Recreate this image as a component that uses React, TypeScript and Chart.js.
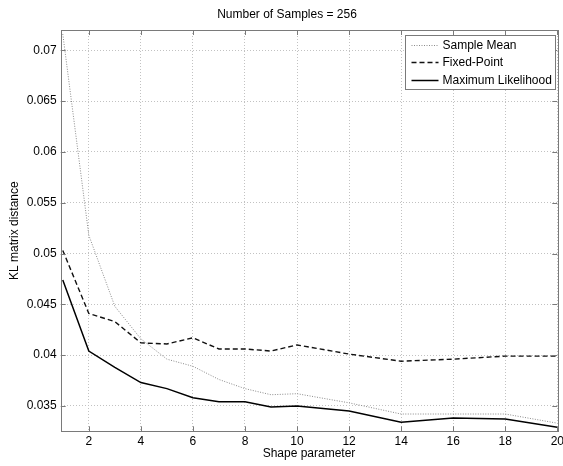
import React, { useEffect, useRef } from "react";
import { Chart, registerables } from "chart.js";

Chart.register(...registerables);

const chartTitle = "Number of Samples = 256";
const xAxisTitle = "Shape parameter";
const yAxisTitle = "KL matrix distance";

const shapeParams = [1, 2, 3, 4, 5, 6, 7, 8, 9, 10, 12, 14, 16, 18, 20];
const sampleMean = [0.0716, 0.0518, 0.0448, 0.0416, 0.0396, 0.0389, 0.0376, 0.0367, 0.0361, 0.0362, 0.0353, 0.0342, 0.0342, 0.0342, 0.0333];
const fixedPoint = [0.0503, 0.0441, 0.0433, 0.0412, 0.0411, 0.0417, 0.0406, 0.0406, 0.0404, 0.041, 0.0401, 0.0394, 0.0396, 0.0399, 0.0399];
const maxLikelihood = [0.0474, 0.0404, 0.0388, 0.0373, 0.0367, 0.0358, 0.0354, 0.0354, 0.0349, 0.035, 0.0345, 0.0334, 0.0338, 0.0337, 0.0329];

const seriesLabels = ["Sample Mean", "Fixed-Point", "Maximum Likelihood"];
const xTicks = [2, 4, 6, 8, 10, 12, 14, 16, 18, 20];
const yTicks = [0.035, 0.04, 0.045, 0.05, 0.055, 0.06, 0.065, 0.07];

const FONT = "'Liberation Sans', Arial, Helvetica, sans-serif";
const AXIS_GRAY = "#7a7a7a";
const GRID_GRAY = "#c2c2c2";

const boxPlugin = {
  id: "matlabBox",
  afterDatasetsDraw(chart: any) {
    const { ctx, chartArea: a } = chart;
    const xs = chart.scales.x;
    const ys = chart.scales.y;
    ctx.save();
    ctx.strokeStyle = AXIS_GRAY;
    ctx.lineWidth = 1;
    ctx.setLineDash([]);
    ctx.beginPath();
    const tl = 5;
    xTicks.forEach((v) => {
      const px = Math.round(xs.getPixelForValue(v)) + 0.5;
      ctx.moveTo(px, a.bottom);
      ctx.lineTo(px, a.bottom - tl);
      ctx.moveTo(px, a.top);
      ctx.lineTo(px, a.top + tl);
    });
    yTicks.forEach((v) => {
      const py = Math.round(ys.getPixelForValue(v)) + 0.5;
      ctx.moveTo(a.left, py);
      ctx.lineTo(a.left + tl, py);
      ctx.moveTo(a.right, py);
      ctx.lineTo(a.right - tl, py);
    });
    ctx.stroke();
    ctx.strokeRect(Math.round(a.left) + 0.5, Math.round(a.top) + 0.5, Math.round(a.right - a.left), Math.round(a.bottom - a.top));
    ctx.restore();
  },
};

const legendPlugin = {
  id: "matlabLegend",
  afterDraw(chart: any) {
    const { ctx, chartArea: a } = chart;
    const ds = chart.data.datasets;
    ctx.save();
    ctx.font = `12px ${FONT}`;
    const textW = Math.max(...ds.map((d: any) => ctx.measureText(d.label).width));
    const lineLen = 27;
    const padL = 6;
    const gap = 4;
    const padR = 4;
    const rowH = 17.3;
    const w = padL + lineLen + gap + textW + padR;
    const h = rowH * ds.length + 2;
    const right = a.right - 2;
    const left = Math.round(right - w) + 0.5;
    const top = Math.round(a.top + 5) + 0.5;
    ctx.fillStyle = "#fff";
    ctx.fillRect(left, top, w, h);
    ctx.strokeStyle = AXIS_GRAY;
    ctx.lineWidth = 1;
    ctx.strokeRect(left, top, Math.round(w), Math.round(h));
    ds.forEach((d: any, i: number) => {
      const cy = top + 1 + rowH * (i + 0.5);
      ctx.beginPath();
      ctx.strokeStyle = d.borderColor;
      ctx.lineWidth = d.borderWidth;
      ctx.setLineDash(d.borderDash || []);
      ctx.moveTo(left + padL, Math.round(cy) + 0.5);
      ctx.lineTo(left + padL + lineLen, Math.round(cy) + 0.5);
      ctx.stroke();
      ctx.setLineDash([]);
      ctx.fillStyle = "#000";
      ctx.textBaseline = "middle";
      ctx.textAlign = "left";
      ctx.fillText(d.label, left + padL + lineLen + gap, cy + 0.5);
    });
    ctx.restore();
  },
};

const titlePlugin = {
  id: "matlabTitle",
  afterDraw(chart: any) {
    const { ctx, chartArea: a } = chart;
    ctx.save();
    ctx.font = `12px ${FONT}`;
    ctx.fillStyle = "#000";
    ctx.textAlign = "center";
    ctx.textBaseline = "middle";
    ctx.fillText(chartTitle, (a.left + a.right) / 2 - 22, a.top - 15.5);
    ctx.restore();
  },
};

export default function App() {
  const ref = useRef<HTMLCanvasElement | null>(null);
  useEffect(() => {
    if (!ref.current) return;
    const mk = (ys: number[]) => shapeParams.map((x, i) => ({ x, y: ys[i] }));
    const chart = new Chart(ref.current, {
      type: "line",
      data: {
        datasets: [
          { label: seriesLabels[0], data: mk(sampleMean), borderColor: "#8a8a8a", borderWidth: 1, borderDash: [1, 1.5], pointRadius: 0, fill: false, tension: 0 },
          { label: seriesLabels[1], data: mk(fixedPoint), borderColor: "#111", borderWidth: 1.4, borderDash: [5, 3], pointRadius: 0, fill: false, tension: 0 },
          { label: seriesLabels[2], data: mk(maxLikelihood), borderColor: "#000", borderWidth: 1.5, pointRadius: 0, fill: false, tension: 0 },
        ],
      },
      options: {
        responsive: false,
        animation: false,
        devicePixelRatio: 1,
        layout: { padding: { top: 30, right: 5.7, left: 0, bottom: 0 } },
        plugins: { legend: { display: false }, title: { display: false }, tooltip: { enabled: false } },
        scales: {
          x: {
            type: "linear",
            min: 0.92,
            max: 20,
            afterBuildTicks: (s: any) => {
              s.ticks = xTicks.map((v) => ({ value: v }));
            },
            afterFit: (s: any) => {
              s.height = 34.7;
              s.paddingLeft = 0;
              s.paddingRight = 0;
            },
            grid: { color: GRID_GRAY, drawTicks: false, tickLength: 0 },
            border: { display: false, dash: [1, 2] },
            ticks: { color: "#000", font: { family: FONT, size: 12 }, padding: 3, maxRotation: 0, autoSkip: false, callback: (v: any) => String(v) },
            title: { display: true, text: xAxisTitle, color: "#000", font: { family: FONT, size: 12 }, padding: { top: 0, bottom: 5.5 } },
          },
          y: {
            type: "linear",
            min: 0.0325,
            max: 0.072,
            afterBuildTicks: (s: any) => {
              s.ticks = yTicks.map((v) => ({ value: v }));
            },
            afterFit: (s: any) => {
              s.width = 60.7;
              s.paddingTop = 0;
              s.paddingBottom = 0;
            },
            grid: { color: GRID_GRAY, drawTicks: false, tickLength: 0 },
            border: { display: false, dash: [1, 2] },
            ticks: { color: "#000", font: { family: FONT, size: 12 }, padding: 4, autoSkip: false, callback: (v: any) => String(Number(Number(v).toFixed(4))) },
            title: { display: true, text: yAxisTitle, color: "#000", font: { family: FONT, size: 12 }, padding: { top: 7, bottom: 0 } },
          },
        },
      },
      plugins: [boxPlugin, legendPlugin, titlePlugin],
    } as any);
    return () => chart.destroy();
  }, []);
  return (
    <div style={{ position: "absolute", left: 0, top: 0, width: 563, height: 466, background: "#fff" }}>
      <canvas ref={ref} width={563} height={466} style={{ display: "block", width: 563, height: 466 }} />
    </div>
  );
}
